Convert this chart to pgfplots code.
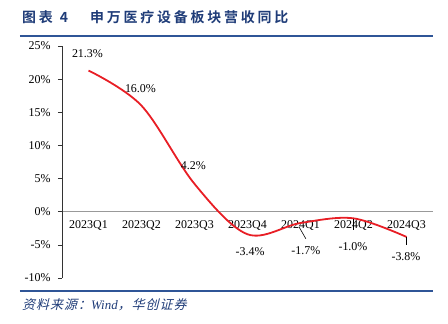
\documentclass[border=0pt]{standalone}
\usepackage{pgfplots}
\pgfplotsset{compat=1.18}
\usepackage{fontspec}
\setmainfont{Liberation Serif}
\newfontfamily\cjktitle[LetterSpace=20]{Noto Sans CJK SC Bold}
\newfontfamily\cjkfoot[FakeSlant=0.25,LetterSpace=8]{Noto Sans CJK SC}
\definecolor{titleblue}{HTML}{1F3C78}
\definecolor{lineblue}{HTML}{2F5597}
\definecolor{redline}{HTML}{E81E25}
\begin{document}
\begin{tikzpicture}[x=1bp,y=1bp]
\path[use as bounding box] (-62,-45) rectangle (386,278);
\begin{axis}[
  at={(0,0)}, anchor=south west,
  scale only axis, width=371bp, height=232bp,
  xmin=0, xmax=7, ymin=-10, ymax=25,
  axis x line=middle, axis y line=left,
  axis line style={-},
  x axis line style={draw=gray!80, line width=0.8bp},
  y axis line style={draw=black!80, line width=0.6bp},
  xtick={0.5,1.5,2.5,3.5,4.5,5.5,6.5},
  xticklabels={2023Q1,2023Q2,2023Q3,2023Q4,2024Q1,2024Q2,2024Q3},
  x tick style={draw=none},
  extra x ticks={0,1,2,3,4,5,6,7},
  extra x tick labels={},
  extra x tick style={tick align=outside, major tick length=3bp, tick style={draw=gray!80, line width=0.6bp}},
  xticklabel style={yshift=-1bp},
  ytick={-10,-5,0,5,10,15,20,25},
  yticklabels={-10\%,-5\%,0\%,5\%,10\%,15\%,20\%,25\%},
  y tick style={draw=black!80, line width=0.6bp},
  tick align=outside, major tick length=4bp,
  yticklabel style={xshift=-4bp},
  tick label style={font=\fontsize{12}{13}\selectfont},
  clip=false,
]
\addplot[redline, line width=1.8bp, smooth, tension=0.55] coordinates {
  (0.5,21.3) (1.5,16.0) (2.5,4.2) (3.5,-3.4) (4.5,-1.7) (5.5,-1.0) (6.5,-3.8)
};
\begin{scope}[every node/.style={font=\fontsize{12}{13}\selectfont, inner sep=0pt}]
\node at (axis cs:0.48,23.9) {21.3\%};
\node at (axis cs:1.48,18.6) {16.0\%};
\node at (axis cs:2.48,6.9) {4.2\%};
\node at (axis cs:3.55,-6.0) {-3.4\%};
\node at (axis cs:4.60,-5.9) {-1.7\%};
\node at (axis cs:5.49,-5.3) {-1.0\%};
\node at (axis cs:6.49,-6.8) {-3.8\%};
\end{scope}
\draw[black, line width=0.6bp] (axis cs:4.47,-2.26) -- (axis cs:4.60,-4.07);
\draw[black, line width=0.6bp] (axis cs:5.49,-1.06) -- (axis cs:5.49,-2.71);
\draw[black, line width=0.6bp] (axis cs:6.49,-3.77) -- (axis cs:6.49,-5.0);
\end{axis}
% title
\node[anchor=west, inner sep=0pt, text=titleblue, font=\cjktitle\fontsize{14}{16}\selectfont] at (-40,261) {图表\hspace{7bp}4};
\node[anchor=west, inner sep=0pt, text=titleblue, font=\cjktitle\fontsize{14}{16}\selectfont] at (28,261) {申万医疗设备板块营收同比};
\draw[lineblue, line width=1.8bp] (-42,242) -- (371,242);
% footer
\draw[lineblue, line width=1.5bp] (-42,-13) -- (371,-13);
\node[anchor=west, inner sep=0pt, text=titleblue, font=\fontsize{13}{14}\selectfont] at (-40,-27) {{\cjkfoot 资料来源：}\textit{Wind}{\cjkfoot ，华创证券}};
\end{tikzpicture}
\end{document}
